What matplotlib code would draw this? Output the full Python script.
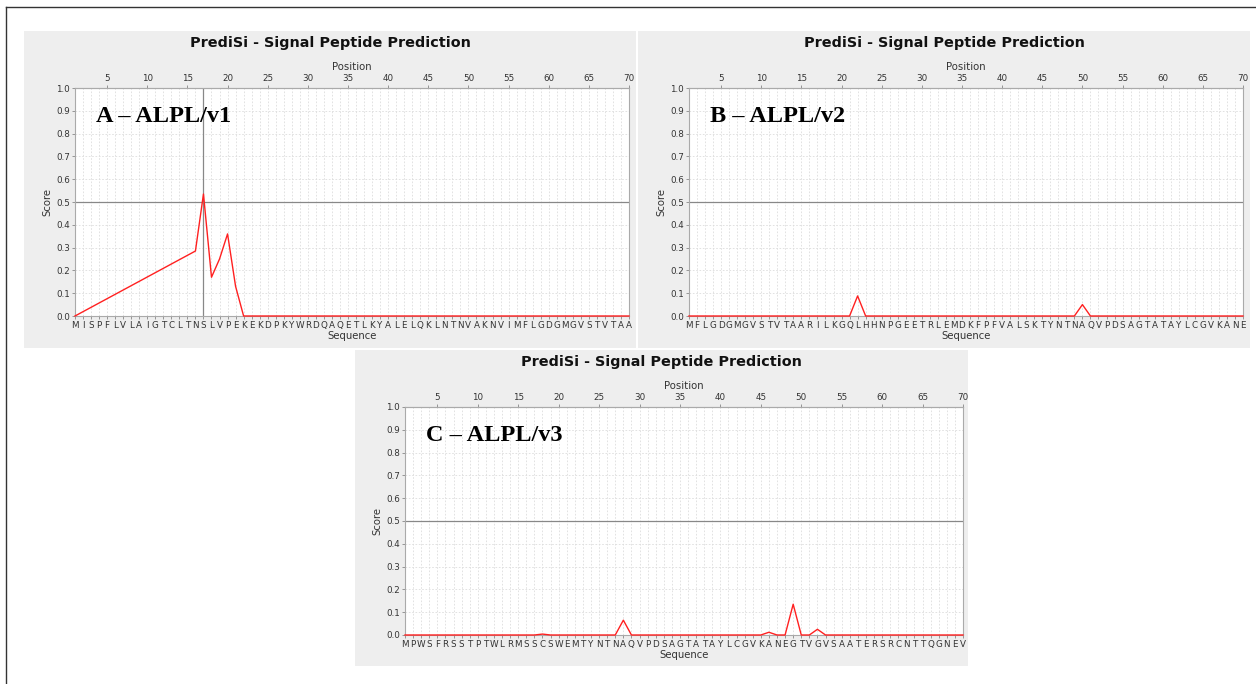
import matplotlib
matplotlib.use('Agg')
import matplotlib.pyplot as plt
from matplotlib.patches import Rectangle
from matplotlib.lines import Line2D

W, H = 1256, 684

# sequences shown under each panel (one residue per position 1..70)
seq_a = 'MISPFLVLAIGTCLTNSLVPEKEKDPKYWRDQAQETLKYALELQKLNTNVAKNVIMFLGDGMGVSTVTAA'
seq_b = 'MFLGDGMGVSTVTAARILKGQLHHNPGEETRLEMDKFPFVALSKTYNTNAQVPDSAGTATAYLCGVKANE'
seq_c = 'MPWSFRSSTPTWLRMSSCSWEMTYNTNAQVPDSAGTATAYLCGVKANEGTVGVSAATERSRCNTTQGNEV'

# panel A: positions 2-15 have no plotted points (straight line 1 -> 16)
pos_a = [1, 16, 17, 18, 19, 20, 21, 22, 23, 24, 25, 26, 27, 28, 29, 30,
         31, 32, 33, 34, 35, 36, 37, 38, 39, 40, 41, 42, 43, 44, 45, 46, 47, 48, 49, 50,
         51, 52, 53, 54, 55, 56, 57, 58, 59, 60, 61, 62, 63, 64, 65, 66, 67, 68, 69, 70]
score_a = [0.0, 0.285, 0.535, 0.17, 0.25, 0.36, 0.13, 0.0, 0.0, 0.0, 0.0, 0.0, 0.0, 0.0, 0.0, 0.0,
           0.0, 0.0, 0.0, 0.0, 0.0, 0.0, 0.0, 0.0, 0.0, 0.0, 0.0, 0.0, 0.0, 0.0, 0.0, 0.0, 0.0, 0.0, 0.0, 0.0,
           0.0, 0.0, 0.0, 0.0, 0.0, 0.0, 0.0, 0.0, 0.0, 0.0, 0.0, 0.0, 0.0, 0.0, 0.0, 0.0, 0.0, 0.0, 0.0, 0.0]

score_b = [0.0, 0.0, 0.0, 0.0, 0.0, 0.0, 0.0, 0.0, 0.0, 0.0,
           0.0, 0.0, 0.0, 0.0, 0.0, 0.0, 0.0, 0.0, 0.0, 0.0,
           0.0, 0.088, 0.0, 0.0, 0.0, 0.0, 0.0, 0.0, 0.0, 0.0,
           0.0, 0.0, 0.0, 0.0, 0.0, 0.0, 0.0, 0.0, 0.0, 0.0,
           0.0, 0.0, 0.0, 0.0, 0.0, 0.0, 0.0, 0.0, 0.0, 0.05,
           0.0, 0.0, 0.0, 0.0, 0.0, 0.0, 0.0, 0.0, 0.0, 0.0,
           0.0, 0.0, 0.0, 0.0, 0.0, 0.0, 0.0, 0.0, 0.0, 0.0]

score_c = [0.0, 0.0, 0.0, 0.0, 0.0, 0.0, 0.0, 0.0, 0.0, 0.0,
           0.0, 0.0, 0.0, 0.0, 0.0, 0.0, 0.0, 0.004, 0.0, 0.0,
           0.0, 0.0, 0.0, 0.0, 0.0, 0.0, 0.0, 0.065, 0.0, 0.0,
           0.0, 0.0, 0.0, 0.0, 0.0, 0.0, 0.0, 0.0, 0.0, 0.0,
           0.0, 0.0, 0.0, 0.0, 0.0, 0.012, 0.0, 0.0, 0.135, 0.0,
           0.0, 0.025, 0.0, 0.0, 0.0, 0.0, 0.0, 0.0, 0.0, 0.0,
           0.0, 0.0, 0.0, 0.0, 0.0, 0.0, 0.0, 0.0, 0.0, 0.0]

panel_labels = ['A – ALPL/v1', 'B – ALPL/v2', 'C – ALPL/v3']
title = 'PrediSi - Signal Peptide Prediction'
cleavage_a = 17

fig = plt.figure(figsize=(W / 100, H / 100), dpi=100)
fig.patch.set_facecolor('white')

# outer frame (top and left edges visible)
fig.add_artist(Line2D([6 / W, 6 / W], [0, 1 - 7 / H], color='#333333', lw=1))
fig.add_artist(Line2D([6 / W, 1], [1 - 7 / H, 1 - 7 / H], color='#333333', lw=1))


def px_box(x0, y0, x1, y1):
    # pixel box (top-left origin) -> figure fraction rect
    return [x0 / W, 1 - y1 / H, (x1 - x0) / W, (y1 - y0) / H]


def panel(bg, ax_box, seq, xs, ys, label, vline=None):
    r = px_box(*bg)
    fig.add_artist(Rectangle((r[0], r[1]), r[2], r[3], transform=fig.transFigure,
                             facecolor='#eeeeee', edgecolor='none', zorder=0))
    ax = fig.add_axes(px_box(*ax_box))
    ax.set_facecolor('white')
    ax.set_xlim(1, 70)
    ax.set_ylim(0, 1.0)
    ax.set_xticks(range(1, 71))
    ax.set_xticklabels(list(seq), fontsize=6.3, color='#333333')
    ax.set_yticks([i / 10 for i in range(11)])
    ax.set_yticklabels(['%.1f' % (i / 10) for i in range(11)], fontsize=6.3, color='#333333')
    ax.tick_params(length=2, width=0.6, color='#888888', pad=1.5)
    ax.grid(True, color='#dddddd', lw=0.6, ls=(0, (2, 2)))
    ax.set_axisbelow(True)
    for s in ax.spines.values():
        s.set_color('#aaaaaa')
        s.set_linewidth(0.8)
    ax.set_xlabel('Sequence', fontsize=7.3, color='#333333', labelpad=1)
    ax.set_ylabel('Score', fontsize=7.3, color='#333333', labelpad=3)

    top = ax.secondary_xaxis('top')
    top.set_xticks(range(5, 71, 5))
    top.set_xticklabels([str(v) for v in range(5, 71, 5)], fontsize=6.3, color='#333333')
    top.tick_params(length=2, width=0.6, color='#888888', pad=1.5)
    top.set_xlabel('Position', fontsize=7.3, color='#333333', labelpad=3)
    top.spines['top'].set_color('#aaaaaa')

    ax.axhline(0.5, color='#888888', lw=0.9, zorder=2)
    if vline is not None:
        ax.axvline(vline, color='#888888', lw=0.9, zorder=2)
    ax.plot(xs, ys, color='#ff2020', lw=1.0, zorder=3, clip_on=False)

    ax.text(0.038, 0.92, label, transform=ax.transAxes, fontsize=17.5, fontweight='bold',
            family=['Liberation Serif', 'DejaVu Serif'], va='top', ha='left', color='black')

    cx = (bg[0] + bg[2]) / 2 / W
    fig.text(cx, 1 - (bg[1] + 12) / H, title, fontsize=10.4, fontweight='bold',
             ha='center', va='center', color='#111111')
    return ax


panel((24, 31, 636, 348), (75, 88, 629, 316), seq_a, pos_a, score_a,
      panel_labels[0], vline=cleavage_a)
panel((638, 31, 1250, 348), (689, 88, 1243, 316), seq_b, range(1, 71), score_b,
      panel_labels[1])
panel((355, 350, 968, 666), (405, 407, 963, 635), seq_c, range(1, 71), score_c,
      panel_labels[2])

fig.savefig('out.png', dpi=100)
